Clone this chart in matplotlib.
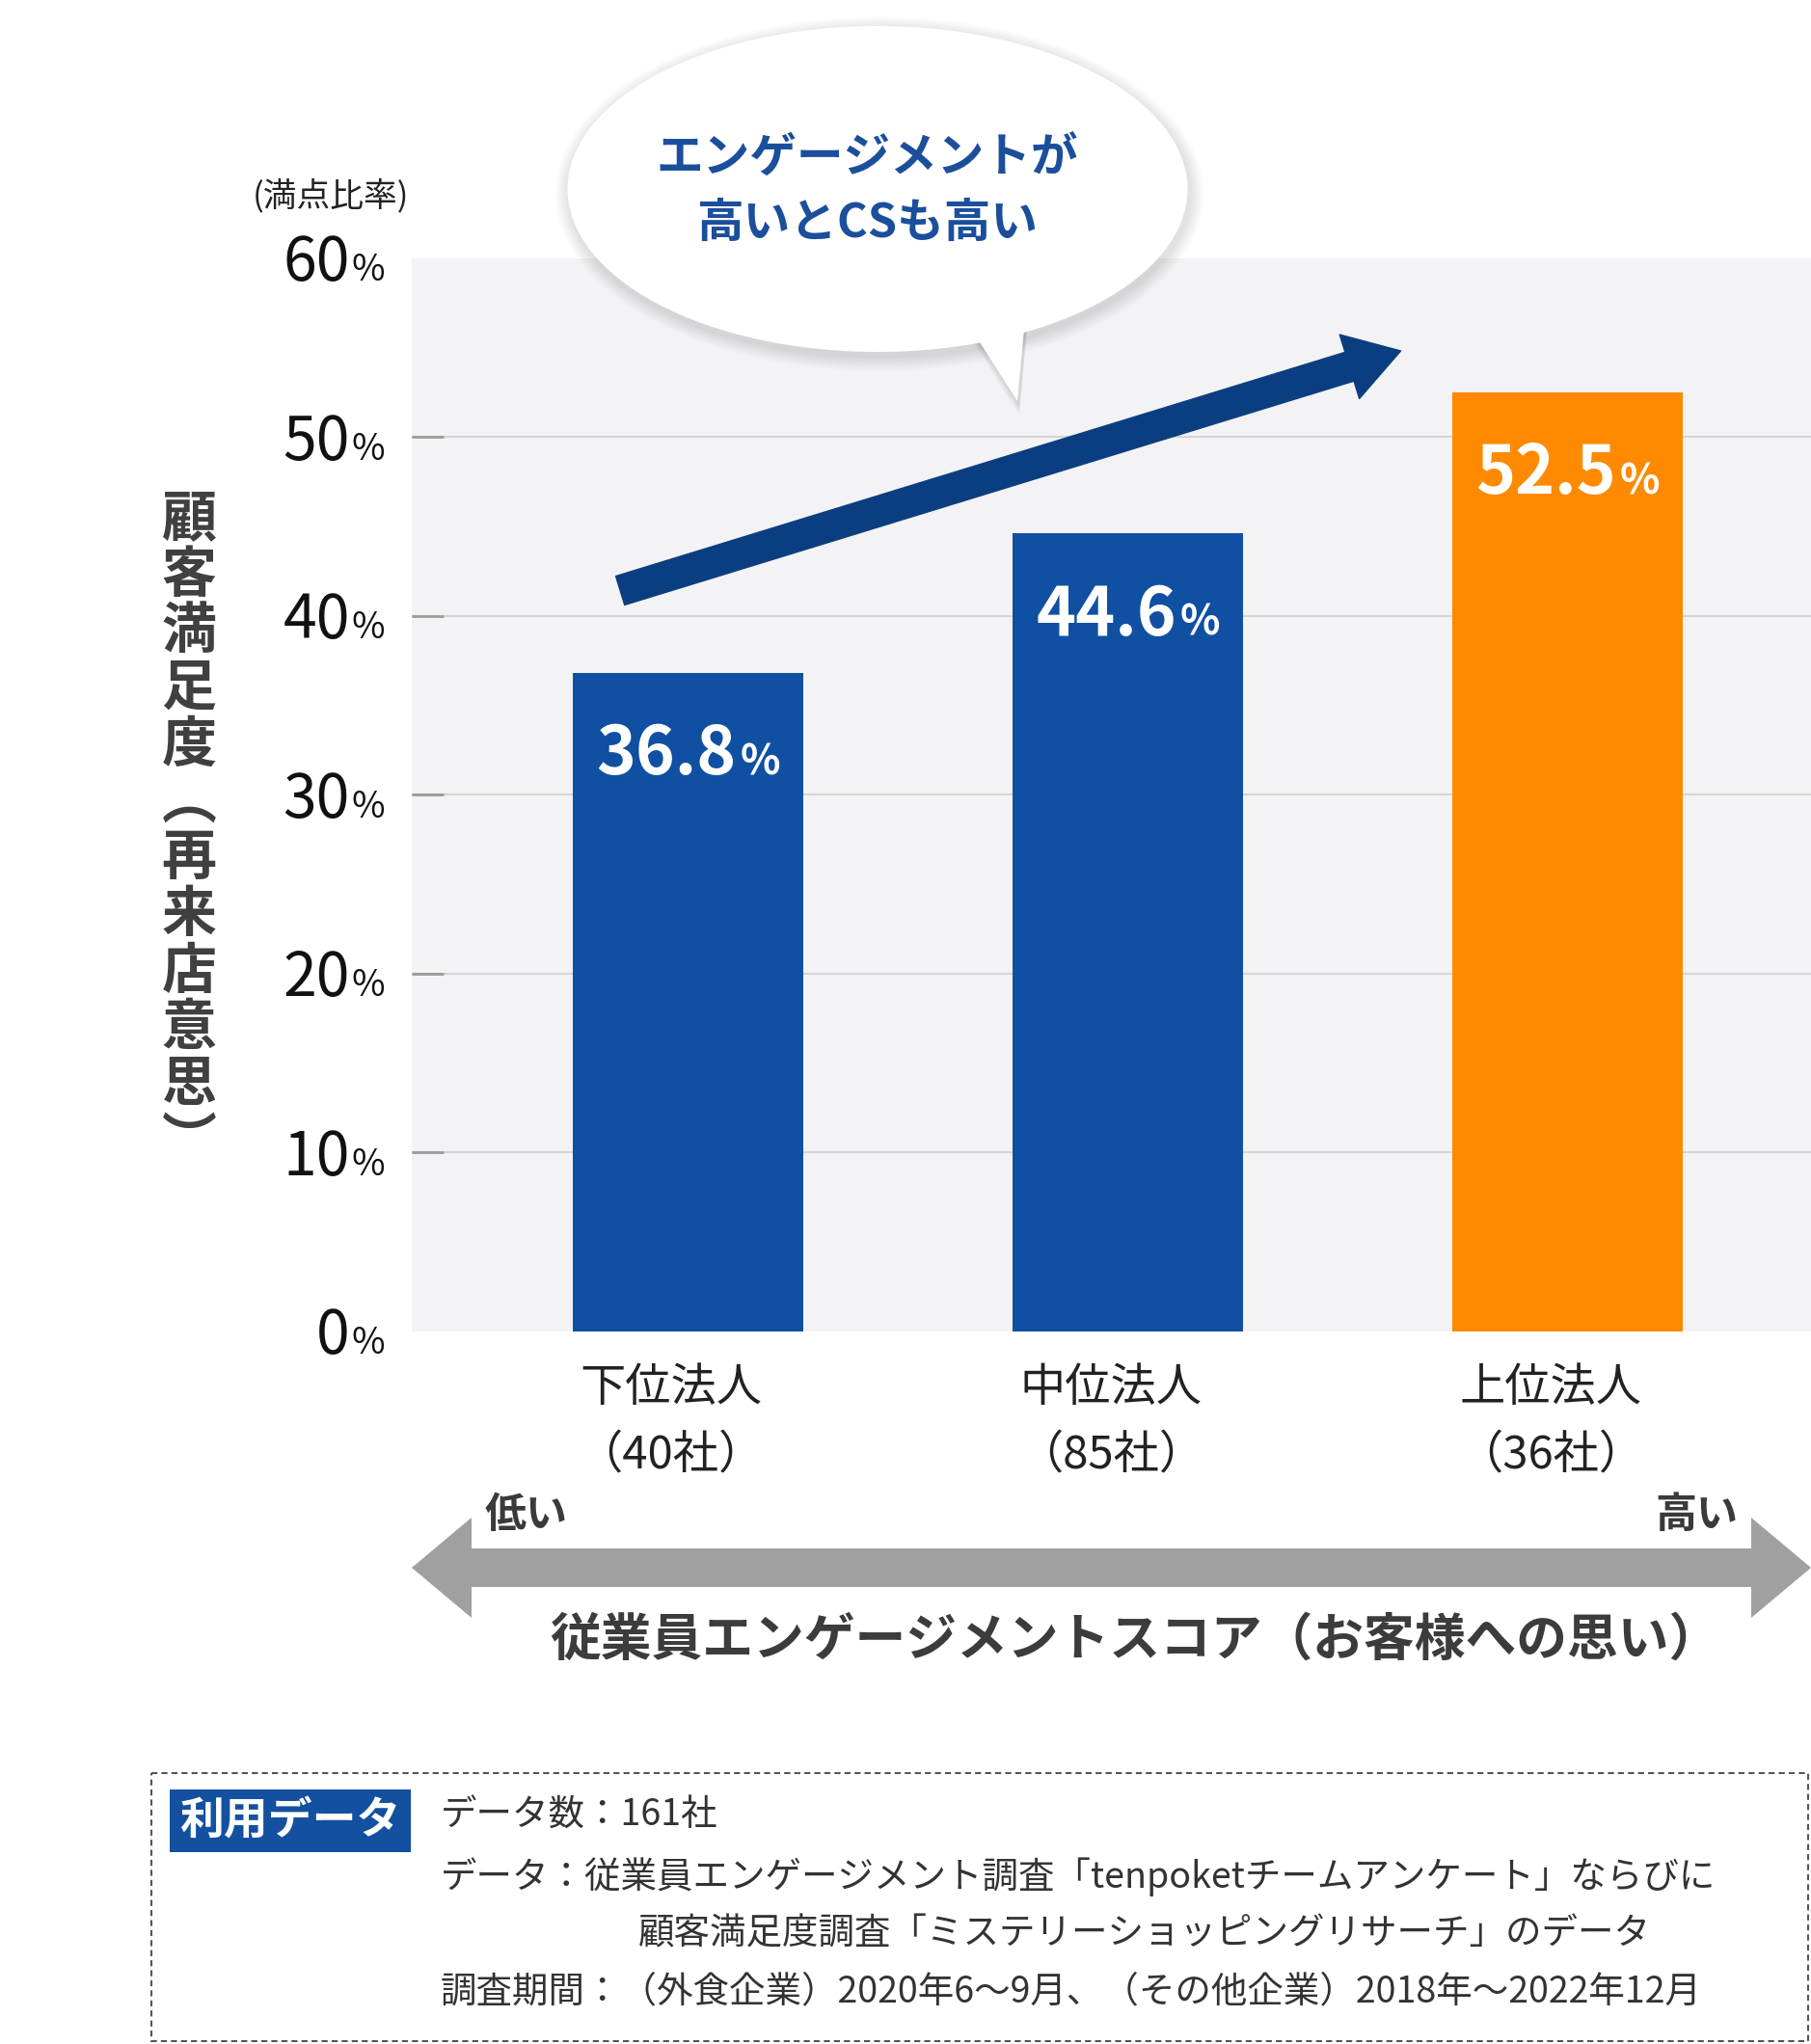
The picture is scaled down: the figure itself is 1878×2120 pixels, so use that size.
import matplotlib
matplotlib.use('Agg')
import matplotlib.pyplot as plt
from matplotlib.patches import Ellipse, Polygon, Rectangle, FancyArrowPatch, ArrowStyle

# 日本語フォント設定
plt.rcParams['font.family'] = ['Noto Sans CJK JP', 'DejaVu Sans']

# データ
categories = ['下位法人', '中位法人', '上位法人']
company_counts = ['（40社）', '（85社）', '（36社）']
satisfaction = [36.8, 44.6, 52.5]
bar_colors = ['#1050a3', '#1050a3', '#ff8a00']
y_ticks = [0, 10, 20, 30, 40, 50, 60]
y_label_chars = ['顧', '客', '満', '足', '度', '︵', '再', '来', '店', '意', '思', '︶']
trend_start = (-0.155, 41.4)
trend_end = (1.62, 54.8)

W, H = 1878, 2120
fig = plt.figure(figsize=(W / 100, H / 100), dpi=100)
fig.patch.set_facecolor('white')

# メイングラフ
ax = fig.add_axes([427 / W, (H - 1380.5) / H, (W - 427) / W, (1380.5 - 267.5) / H])
ax.set_facecolor('#f3f3f5')
for s in ax.spines.values():
    s.set_visible(False)
ax.set_xlim(-0.629, 2.553)
ax.set_ylim(0, 60)
x = list(range(len(categories)))
ax.bar(x, satisfaction, width=0.524, color=bar_colors, zorder=3)

ax.set_yticks([10, 20, 30, 40, 50])
ax.yaxis.grid(True, color='#d4d4d4', linewidth=1.5)
ax.set_axisbelow(True)
ax.tick_params(axis='y', direction='in', length=24, width=2, color='#9a9a9a', labelleft=False)
ax.set_xticks([])

# 目盛りラベル（%は小さく）
for v in y_ticks:
    ax.annotate(str(v), xy=(0, v), xycoords=('axes fraction', 'data'), xytext=(-46, -17),
                textcoords='offset points', ha='right', va='baseline', fontsize=45, color='#111')
    ax.annotate('%', xy=(0, v), xycoords=('axes fraction', 'data'), xytext=(-45, -17),
                textcoords='offset points', ha='left', va='baseline', fontsize=27, color='#111')

# 棒の値ラベル
for i, v in enumerate(satisfaction):
    ax.annotate(f'{v:.1f}', xy=(i, v), xytext=(36, -76), textcoords='offset points',
                ha='right', va='baseline', fontsize=50, fontweight='bold', color='white', zorder=5)
    ax.annotate('%', xy=(i, v), xytext=(39, -76), textcoords='offset points',
                ha='left', va='baseline', fontsize=31, fontweight='bold', color='white', zorder=5)

# カテゴリラベル
for i, (c, n) in enumerate(zip(categories, company_counts)):
    ax.annotate(c, xy=(i, 0), xytext=(-13, -43), textcoords='offset points',
                ha='center', va='center', fontsize=34, color='#222', annotation_clip=False)
    ax.annotate(n, xy=(i, 0), xytext=(-13, -93), textcoords='offset points',
                ha='center', va='center', fontsize=34, color='#222', annotation_clip=False)

# 右上がりの矢印
trend = FancyArrowPatch(trend_start, trend_end,
                        arrowstyle=ArrowStyle.Simple(head_length=40, head_width=50, tail_width=22.5),
                        mutation_scale=1, color='#0b3e80', shrinkA=0, shrinkB=0, zorder=6)
ax.add_patch(trend)

# 装飾用のオーバーレイ（ピクセル座標）
ov = fig.add_axes([0, 0, 1, 1], zorder=10)
ov.set_xlim(0, W)
ov.set_ylim(H, 0)
ov.axis('off')
ov.patch.set_alpha(0)

# 吹き出し（影つき）
bx, by, bw, bh = 910, 196, 643, 338
tail = [(1000, 330), (1063, 330), (1055, 416)]
for k in range(10, 0, -1):
    ov.add_patch(Ellipse((bx + 2, by + 5), bw + 3 * k, bh + 3 * k, color='black', alpha=0.012, lw=0))
    ov.add_patch(Polygon([(px + 2, py + 5 + k) for px, py in tail], color='black', alpha=0.012, lw=0))
ov.add_patch(Ellipse((bx, by), bw, bh, color='white', lw=0))
ov.add_patch(Polygon(tail, color='white', lw=0))
ov.text(899, 164, 'エンゲージメントが', ha='center', va='center', fontsize=35,
        fontweight='bold', color='#1b4f9c')
ov.text(899, 231, '高いとCSも高い', ha='center', va='center', fontsize=35,
        fontweight='bold', color='#1b4f9c')

ov.text(343, 203, '(満点比率)', ha='center', va='center', fontsize=25, color='#222')

# 縦書きの軸タイトル
for k, ch in enumerate(y_label_chars):
    ov.text(196, 538 + 58.7 * k, ch, ha='center', va='center', fontsize=41,
            fontweight='bold', color='#404040')

# 下の両矢印
ov.add_patch(Polygon([(427, 1626), (489, 1574), (489, 1606), (1816, 1606), (1816, 1574),
                      (1878, 1626), (1816, 1678), (1816, 1646), (489, 1646), (489, 1678)],
                     color='#a0a0a0', lw=0))
ov.text(503, 1571, '低い', ha='left', va='center', fontsize=31, fontweight='bold', color='#3a3a3a')
ov.text(1802, 1571, '高い', ha='right', va='center', fontsize=31, fontweight='bold', color='#3a3a3a')
ov.text(1177, 1701, '従業員エンゲージメントスコア（お客様への思い）', ha='center', va='center',
        fontsize=38, fontweight='bold', color='#3c3c3c')

# 利用データ
ov.add_patch(Rectangle((157, 1839), 1718, 278, fill=False, edgecolor='#555', lw=1.5,
                       linestyle=(0, (3, 2))))
ov.add_patch(Rectangle((176, 1856), 250, 65, color='#1450a0', lw=0))
ov.text(301, 1889, '利用データ', ha='center', va='center', fontsize=33, fontweight='bold', color='white')
ov.text(457, 1883, 'データ数：161社', ha='left', va='center', fontsize=27, color='#333')
ov.text(457, 1947, 'データ：従業員エンゲージメント調査「tenpoketチームアンケート」ならびに',
        ha='left', va='center', fontsize=27, color='#333')
ov.text(662, 2006, '顧客満足度調査「ミステリーショッピングリサーチ」のデータ',
        ha='left', va='center', fontsize=27, color='#333')
ov.text(457, 2066, '調査期間：（外食企業）2020年6〜9月、（その他企業）2018年〜2022年12月',
        ha='left', va='center', fontsize=27, color='#333')

fig.savefig('out.png', dpi=100)
